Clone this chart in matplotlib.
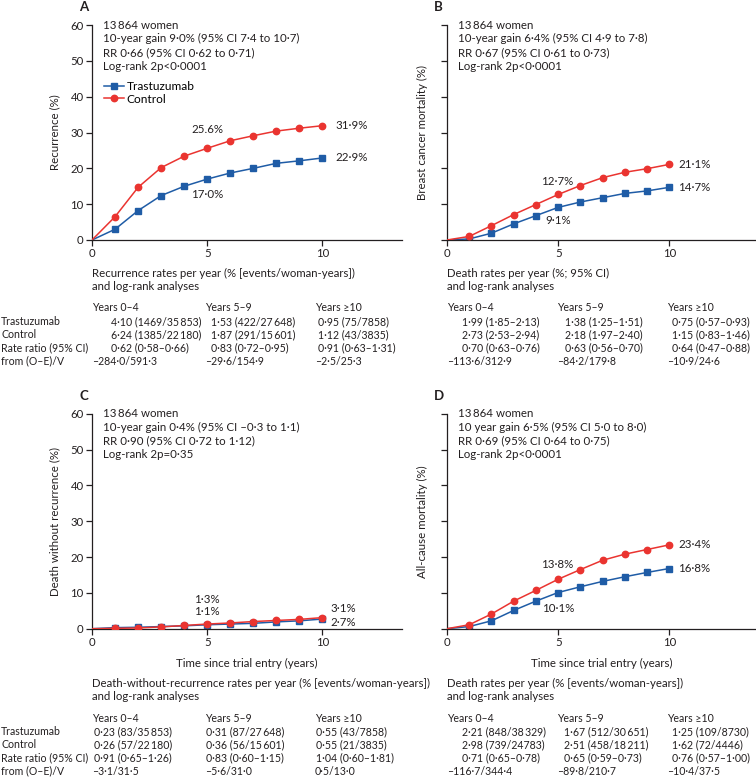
import matplotlib
matplotlib.use('Agg')
import matplotlib.pyplot as plt
from matplotlib.lines import Line2D

plt.rcParams['font.family'] = ['Lato', 'DejaVu Sans']

# ---------------- data ----------------
years = list(range(0, 11))
recur_trast = [0, 3.0, 8.2, 12.4, 15.0, 17.0, 18.7, 20.0, 21.4, 22.1, 22.9]
recur_ctrl = [0, 6.5, 14.7, 20.2, 23.4, 25.6, 27.7, 29.1, 30.4, 31.2, 31.9]
bcm_trast = [0, 0.3, 1.9, 4.5, 6.8, 9.1, 10.6, 11.8, 13.0, 13.7, 14.7]
bcm_ctrl = [0, 1.0, 4.0, 7.1, 9.9, 12.7, 15.2, 17.4, 18.9, 19.9, 21.1]
dwr_trast = [0, 0.3, 0.4, 0.6, 0.8, 1.1, 1.3, 1.5, 1.9, 2.2, 2.7]
dwr_ctrl = [0, 0.1, 0.2, 0.5, 0.9, 1.3, 1.6, 2.0, 2.3, 2.6, 3.1]
acm_trast = [0, 0.6, 2.2, 5.1, 7.7, 10.1, 11.7, 13.2, 14.5, 15.7, 16.8]
acm_ctrl = [0, 1.1, 4.1, 7.7, 10.7, 13.8, 16.5, 19.1, 20.8, 22.1, 23.4]

yticks = [0, 10, 20, 30, 40, 50, 60]
xticks = [0, 5, 10]
series_names = ['Trastuzumab', 'Control']

stats_A = ['13\u2009864 women', '10-year gain 9·0% (95% CI 7·4 to 10·7)',
           'RR 0·66 (95% CI 0·62 to 0·71)', 'Log-rank 2p<0·0001']
stats_B = ['13\u2009864 women', '10-year gain 6·4% (95% CI 4·9 to 7·8)',
           'RR 0·67 (95% CI 0·61 to 0·73)', 'Log-rank 2p<0·0001']
stats_C = ['13\u2009864 women', '10-year gain 0·4% (95% CI –0·3 to 1·1)',
           'RR 0·90 (95% CI 0·72 to 1·12)', 'Log-rank 2p=0·35']
stats_D = ['13\u2009864 women', '10 year gain 6·5% (95% CI 5·0 to 8·0)',
           'RR 0·69 (95% CI 0·64 to 0·75)', 'Log-rank 2p<0·0001']

# labels: (text, x, y, ha)
labels_A = [('25.6%', 5, 30.7, 'center'), ('17·0%', 5, 12.6, 'center'),
            ('31·9%', 10.55, 31.9, 'left'), ('22·9%', 10.55, 23.0, 'left')]
labels_B = [('12·7%', 4.95, 16.4, 'center'), ('9·1%', 5.0, 5.4, 'center'),
            ('21·1%', 10.4, 21.0, 'left'), ('14·7%', 10.4, 14.6, 'left')]
labels_C = [('1·3%', 5, 8.2, 'center'), ('1·1%', 5, 4.8, 'center'),
            ('3·1%', 10.35, 5.5, 'left'), ('2·7%', 10.35, 1.6, 'left')]
labels_D = [('13·8%', 4.95, 17.9, 'center'), ('10·1%', 5.0, 5.6, 'center'),
            ('23·4%', 10.4, 23.4, 'left'), ('16·8%', 10.4, 16.8, 'left')]

row_labels = ['Trastuzumab', 'Control', 'Rate ratio (95% CI)', 'from (O–E)/V']
period_labels = ['Years 0–4', 'Years 5–9', 'Years ≥10']

table_A_title = ['Recurrence rates per year (% [events/woman-years])', 'and log-rank analyses']
table_A = [['4·10 (1469/35\u2009853)', '1·53 (422/27\u2009648)', '0·95 (75/7858)'],
           ['6·24 (1385/22\u2009180)', '1·87 (291/15\u2009601)', '1·12 (43/3835)'],
           ['0·62 (0·58–0·66)', '0·83 (0·72–0·95)', '0·91 (0·63–1·31)'],
           ['–284·0/591·3', '–29·6/154·9', '–2·5/25·3']]
table_B_title = ['Death rates per year (%; 95% CI)', 'and log-rank analyses']
table_B = [['1·99 (1·85–2·13)', '1·38 (1·25–1·51)', '0·75 (0·57–0·93)'],
           ['2·73 (2·53–2·94)', '2·18 (1·97–2·40)', '1·15 (0·83–1·46)'],
           ['0·70 (0·63–0·76)', '0·63 (0·56–0·70)', '0·64 (0·47–0·88)'],
           ['–113·6/312·9', '–84·2/179·8', '–10·9/24·6']]
table_C_title = ['Death-without-recurrence rates per year (% [events/woman-years])',
                 'and log-rank analyses']
table_C = [['0·23 (83/35\u2009853)', '0·31 (87/27\u2009648)', '0·55 (43/7858)'],
           ['0·26 (57/22\u2009180)', '0·36 (56/15\u2009601)', '0·55 (21/3835)'],
           ['0·91 (0·65–1·26)', '0·83 (0·60–1·15)', '1·04 (0·60–1·81)'],
           ['–3·1/31·5', '–5·6/31·0', '0·5/13·0']]
table_D_title = ['Death rates per year (% [events/woman-years])', 'and log-rank analyses']
table_D = [['2·21 (848/38\u2009329)', '1·67 (512/30\u2009651)', '1·25 (109/8730)'],
           ['2·98 (739/24783)', '2·51 (458/18\u2009211)', '1·62 (72/4446)'],
           ['0·71 (0·65–0·78)', '0·65 (0·59–0·73)', '0·76 (0·57–1·00)'],
           ['–116·7/344·4', '–89·8/210·7', '–10·4/37·5']]

# ---------------- style ----------------
BLUE = '#1f5ca6'
RED = '#ea3430'
TXT = '#231f20'
FS = 7.6      # table text
FS2 = 8.3     # annotation text

W, H = 756, 777
fig = plt.figure(figsize=(W / 100, H / 100), dpi=100)


def fx(x):
    return x / W


def fy(y):
    return 1 - y / H


def ftext(x, y, s, **kw):
    kw.setdefault('fontsize', FS)
    kw.setdefault('color', TXT)
    kw.setdefault('va', 'center')
    fig.text(fx(x), fy(y), s, **kw)


def make_panel(x0, y0, wpx, hpx, xmax, trast, ctrl, ylabel, letter, stats,
               labels, show_ylabels, ylab_x, legend=False, xlabel=None):
    ax = fig.add_axes([fx(x0), fy(y0), wpx / W, hpx / H])
    ax.plot(years, ctrl, color=RED, lw=1.1, marker='o', ms=4.6,
            markevery=slice(1, None), zorder=3)
    ax.plot(years, trast, color=BLUE, lw=1.1, marker='s', ms=4.0,
            markevery=slice(1, None), zorder=2)
    ax.set_xlim(0, xmax)
    ax.set_ylim(0, 60)
    ax.set_xticks(xticks)
    ax.set_yticks(yticks)
    ax.spines['top'].set_visible(False)
    ax.spines['right'].set_visible(False)
    for sp in ('left', 'bottom'):
        ax.spines[sp].set_linewidth(0.9)
        ax.spines[sp].set_color(TXT)
    ax.tick_params(direction='out', length=4.5, width=0.9, colors=TXT,
                   labelsize=8.2, pad=1.5)
    if not show_ylabels:
        ax.set_yticklabels([])
    ax.set_ylabel(ylabel, fontsize=FS2, color=TXT)
    ax.yaxis.set_label_coords((ylab_x - x0) / wpx, 0.5)
    for i, line in enumerate(stats):
        ax.text(11 / wpx, 1 - i * 13.7 / hpx, line, transform=ax.transAxes,
                fontsize=FS2, color=TXT, va='center', ha='left')
    for s, x, y, ha in labels:
        ax.text(x, y, s, fontsize=FS2, color=TXT, ha=ha, va='center')
    fig.text(fx(x0 - 13), fy(y0 - hpx - 18), letter, fontsize=9.5,
             fontweight='bold', color=TXT, va='center', ha='left')
    if legend:
        handles = [Line2D([], [], color=BLUE, marker='s', ms=4.0, lw=1.1),
                   Line2D([], [], color=RED, marker='o', ms=4.6, lw=1.1)]
        ax.legend(handles, series_names, loc='center left',
                  bbox_to_anchor=(12 / wpx, 1 - 68 / hpx), frameon=False,
                  fontsize=FS2 + 0.3, handlelength=1.65, handletextpad=0.25,
                  labelspacing=0.1, borderpad=0, borderaxespad=0)
    if xlabel:
        ax.set_xlabel(xlabel, fontsize=FS2, color=TXT, labelpad=7)
    return ax


make_panel(92, 240, 310, 215, 13.45, recur_trast, recur_ctrl,
           'Recurrence (%)', 'A', stats_A, labels_A, True, 60, legend=True)
make_panel(447, 240, 309, 215, 13.9, bcm_trast, bcm_ctrl,
           'Breast cancer mortality (%)', 'B', stats_B, labels_B, False, 428)
make_panel(92, 628.7, 310, 215, 13.45, dwr_trast, dwr_ctrl,
           'Death without recurrence (%)', 'C', stats_C, labels_C, True, 60,
           xlabel='Time since trial entry (years)')
make_panel(447, 628.7, 309, 215, 13.9, acm_trast, acm_ctrl,
           'All-cause mortality (%)', 'D', stats_D, labels_D, False, 428,
           xlabel='Time since trial entry (years)')


def draw_table(title, rows, head_y, col_x, val_x, with_row_labels):
    ftext(col_x[0], head_y, title[0], fontsize=FS + 0.6)
    ftext(col_x[0], head_y + 13, title[1], fontsize=FS + 0.6)
    yr = head_y + 35
    for cx, p in zip(col_x, period_labels):
        ftext(cx, yr, p)
    for r, row in enumerate(rows):
        y = yr + 13.3 * (r + 1)
        if with_row_labels:
            ftext(1, y, row_labels[r])
        for c, s in enumerate(row):
            x = col_x[c] if r == 3 else val_x[c]
            ftext(x, y, s)


draw_table(table_A_title, table_A, 273, [92, 205, 315], [111, 211, 318], True)
draw_table(table_B_title, table_B, 273, [447, 557, 667], [462, 565, 672], False)
draw_table(table_C_title, table_C, 683, [92, 205, 315], [94, 206, 316], True)
draw_table(table_D_title, table_D, 683, [447, 557, 667], [462, 564, 672], False)

fig.savefig('out.png', dpi=100)
